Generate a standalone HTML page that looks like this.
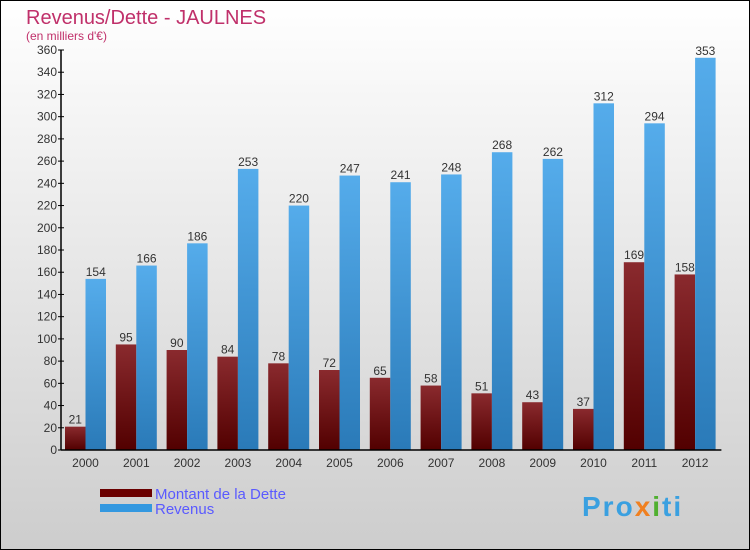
<!DOCTYPE html>
<html><head><meta charset="utf-8"><style>
body{margin:0}
svg{display:block;font-family:"Liberation Sans",sans-serif}
</style></head><body>
<svg width="750" height="550">
<defs>
<linearGradient id="bg" x1="0" y1="0" x2="0" y2="1"><stop offset="0" stop-color="#ffffff"/><stop offset="1" stop-color="#cdcdcd"/></linearGradient>
<linearGradient id="gd" x1="0" y1="0" x2="0" y2="1"><stop offset="0" stop-color="#8a2a2e"/><stop offset="1" stop-color="#520000"/></linearGradient>
<linearGradient id="gr" x1="0" y1="0" x2="0" y2="1"><stop offset="0" stop-color="#55aceb"/><stop offset="1" stop-color="#2a7ab8"/></linearGradient>
</defs>
<rect x="0.5" y="0.5" width="749" height="549" fill="url(#bg)" stroke="#000"/>
<text x="26" y="24" font-size="20" fill="#c0306a">Revenus/Dette - JAULNES</text>
<text x="26" y="40" font-size="12" fill="#c0306a">(en milliers d'€)</text>
<g id="plot"></g>
<rect x="100" y="489" width="52" height="8" fill="#6a0000"/>
<text x="155" y="499" font-size="15" fill="#5a5aff">Montant de la Dette</text>
<rect x="100" y="504" width="52" height="8" fill="#3398e0"/>
<text x="155" y="514" font-size="15" fill="#5a5aff">Revenus</text>
<text x="582" y="516" font-size="28" font-weight="bold" letter-spacing="2" fill="#3aa0e0">Pro<tspan fill="#f08020">x</tspan><tspan fill="#50b030">i</tspan>ti</text>
</svg>
<script>
const years=["2000","2001","2002","2003","2004","2005","2006","2007","2008","2009","2010","2011","2012"];
const dette=[21,95,90,84,78,72,65,58,51,43,37,169,158];
const revenus=[154,166,186,253,220,247,241,248,268,262,312,294,353];
const yTicks=[0,20,40,60,80,100,120,140,160,180,200,220,240,260,280,300,320,340,360];
const NS="http://www.w3.org/2000/svg";
const g=document.getElementById('plot');
const x0=61,y0=450,step=50.8,bw=20.5;
const y=v=>y0-v*400/360;
function el(t,a,txt){const e=document.createElementNS(NS,t);for(const k in a)e.setAttribute(k,a[k]);if(txt!==undefined)e.textContent=txt;g.appendChild(e);return e;}
yTicks.forEach(t=>{
 const l=el('line',{x1:x0-3,x2:x0+3,y1:y(t),y2:y(t),stroke:'#000'});
 
 
 const tx=el('text',{x:x0-4,y:y(t)+4,'font-size':12,fill:'#333','text-anchor':'end'},t);
 
 
});
years.forEach((yr,i)=>{
 const bx=x0+4+i*step;
 const d=el('rect',{x:bx,y:y(dette[i]),width:bw,height:y0-y(dette[i]),fill:'url(#gd)'});
 
 
 const r=el('rect',{x:bx+bw,y:y(revenus[i]),width:bw,height:y0-y(revenus[i]),fill:'url(#gr)'});
 
 
 const dl=el('text',{x:bx+bw/2,y:y(dette[i])-3,'font-size':12,fill:'#333','text-anchor':'middle'},dette[i]);
 
 
 const rl=el('text',{x:bx+bw*1.5,y:y(revenus[i])-3,'font-size':12,fill:'#333','text-anchor':'middle'},revenus[i]);
 
 
 const xl=el('text',{x:bx+bw,y:467,'font-size':12,fill:'#333','text-anchor':'middle'},yr);
 
 
});
const ya=el('line',{x1:x0,x2:x0,y1:y(360),y2:y0,stroke:'#000','stroke-width':1.5});


const xa=el('line',{x1:x0,x2:x0+13*step,y1:y0,y2:y0,stroke:'#000','stroke-width':1.5});


</script>
</body></html>
